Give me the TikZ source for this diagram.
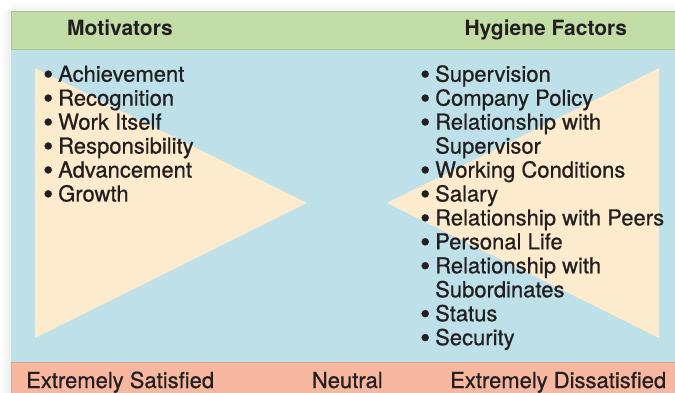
\documentclass[tikz,border=0pt]{standalone}
\usepackage{fontspec}
\setmainfont{TeX Gyre Heros}
\newfontfamily\itemfont[FakeBold=0.7]{TeX Gyre Heros}
\usetikzlibrary{positioning}
\definecolor{ink}{RGB}{35,31,32}
\definecolor{sage}{RGB}{194,221,166}
\definecolor{sky}{RGB}{189,224,233}
\definecolor{cream}{RGB}{253,235,205}
\definecolor{salmon}{RGB}{248,184,160}
\newcommand{\dotmark}{\makebox[15bp][l]{\raisebox{-2.3bp}{\scalebox{1.3}{\textbullet}}}}
\tikzset{
  band/.style={fill=#1,draw=#1!88!black,line width=0.8bp},
  band/.default=sage,
  head/.style={font=\fontsize{21bp}{24bp}\selectfont\bfseries,text=ink,
    inner sep=0pt,anchor=base west},
  item/.style={font=\fontsize{22bp}{24bp}\selectfont\itemfont,text=ink,
    inner sep=0pt,anchor=base west},
  wedge/.style={fill=cream},
}

\begin{document}
\begin{tikzpicture}[x=1bp,y=1bp]
  \useasboundingbox (0,0) rectangle (675,392);
  % soft shadow round the panel
  \shade[left color=white,right color=black!7] (0,0) rectangle (11,381);
  \shade[top color=white,bottom color=black!5] (11,381) rectangle (675,392);
  % bands
  \fill[sky] (11,30) rectangle (676,343);
  \draw[band=sage] (11,343) rectangle (676,381);
  \draw[band=salmon] (11,-1) rectangle (676,30);
  % the two wedges
  \fill[wedge] (35,324) -- (307,189) -- (35,54) -- cycle;
  \fill[wedge] (659,324) -- (387,189) -- (659,54) -- cycle;
  % headings
  \node[head] (mot) at (67,356.3) {Motivators};
  \node[head] (hyg) at (464.3,356.3) {Hygiene Factors};
  % motivators
  \foreach \t [count=\i] in {Achievement,Recognition,Work Itself,
      Responsibility,Advancement,Growth}
    \node[item] (m\i) at (43,310.3-23.95*\i+23.95) {\dotmark\t};
  % hygiene factors
  \foreach \b/\t [count=\i] in {1/Supervision,1/Company Policy,
      1/Relationship with,0/Supervisor,1/Working Conditions,1/Salary,
      1/Relationship with Peers,1/Personal Life,1/Relationship with,
      0/Subordinates,1/Status,1/Security}
    \node[item] (h\i) at (420,310.3-23.95*\i+23.95)
      {\ifnum\b=1 \dotmark\else\hspace*{15bp}\fi\t};
  % scale along the bottom
  \node[item] (sat) at (26,4) {Extremely Satisfied};
  \node[item] (neu) at (311.7,4) {Neutral};
  \node[item] (dis) at (450,4) {Extremely Dissatisfied};
\end{tikzpicture}
\end{document}
